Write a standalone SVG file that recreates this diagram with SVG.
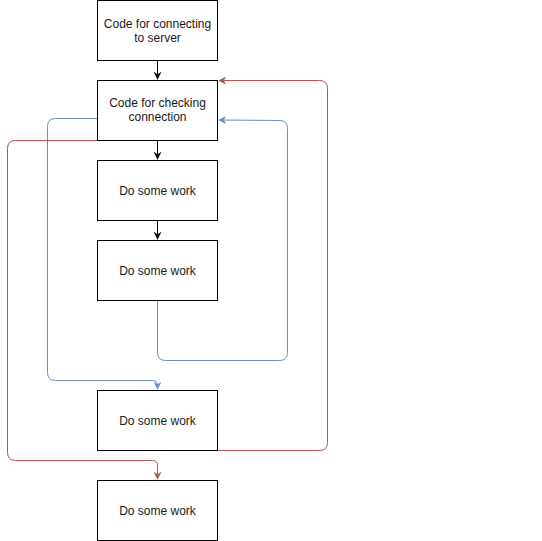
<svg xmlns="http://www.w3.org/2000/svg" width="542" height="541" viewBox="0 0 542 541">
<defs>
<style>
.box{fill:#fff;stroke:#000;stroke-width:1}
.t{font-family:"Liberation Sans",Arial,sans-serif;font-size:12px;fill:#1a1a1a;text-anchor:middle}
.c{fill:none;stroke-width:1}
.k{stroke:#000}
.b{stroke:#6c8ebf}
.r{stroke:#b85450}
</style>
<marker id="ak" viewBox="0 0 10 10" refX="9" refY="5" markerWidth="8" markerHeight="8" markerUnits="userSpaceOnUse" orient="auto"><path d="M0,0 L10,5 L0,10 L3,5 Z" fill="#000"/></marker>
<marker id="ab" viewBox="0 0 10 10" refX="9" refY="5" markerWidth="8" markerHeight="8" markerUnits="userSpaceOnUse" orient="auto"><path d="M0,0 L10,5 L0,10 L3,5 Z" fill="#6c8ebf"/></marker>
<marker id="ar" viewBox="0 0 10 10" refX="9" refY="5" markerWidth="8" markerHeight="8" markerUnits="userSpaceOnUse" orient="auto"><path d="M0,0 L10,5 L0,10 L3,5 Z" fill="#b85450"/></marker>
</defs>
<rect width="542" height="541" fill="#fff"/>
<g id="connectors">
<path class="c k" d="M157.5,60.5 V79" marker-end="url(#ak)"/>
<path class="c k" d="M157.5,140.5 V159" marker-end="url(#ak)"/>
<path class="c k" d="M157.5,220.5 V239" marker-end="url(#ak)"/>
<path class="c b" d="M97.5,118.5 H55.5 Q47.5,118.5 47.5,126.5 V372.5 Q47.5,380.5 55.5,380.5 H152.5 Q157.5,380.5 157.5,385.5 V389" marker-end="url(#ab)"/>
<path class="c b" d="M157.5,300.5 V352.5 Q157.5,360.5 165.5,360.5 H279.5 Q287.5,360.5 287.5,352.5 V128.5 Q287.5,120.5 279.5,120.5 L219,120" marker-end="url(#ab)"/>
<path class="c r" d="M97.5,140.5 H15.5 Q7.5,140.5 7.5,148.5 V452.5 Q7.5,460.5 15.5,460.5 H152.5 Q157.5,460.5 157.5,465.5 V479" marker-end="url(#ar)"/>
<path class="c r" d="M157.5,450.5 H319.5 Q327.5,450.5 327.5,442.5 V88.5 Q327.5,80.5 319.5,80.5 H219" marker-end="url(#ar)"/>
</g>
<g id="n1"><rect class="box" x="97.5" y="0.5" width="120" height="60"/><text class="t" x="157.5" y="28">Code for connecting</text><text class="t" x="157.5" y="42">to server</text></g>
<g id="n2"><rect class="box" x="97.5" y="80.5" width="120" height="60"/><text class="t" x="157.5" y="107">Code for checking</text><text class="t" x="157.5" y="121">connection</text></g>
<g id="n3"><rect class="box" x="97.5" y="160.5" width="120" height="60"/><text class="t" x="157.5" y="195">Do some work</text></g>
<g id="n4"><rect class="box" x="97.5" y="240.5" width="120" height="60"/><text class="t" x="157.5" y="275">Do some work</text></g>
<g id="n5"><rect class="box" x="97.5" y="390.5" width="120" height="60"/><text class="t" x="157.5" y="425">Do some work</text></g>
<g id="n6"><rect class="box" x="97.5" y="480.5" width="120" height="60"/><text class="t" x="157.5" y="515">Do some work</text></g>
</svg>
